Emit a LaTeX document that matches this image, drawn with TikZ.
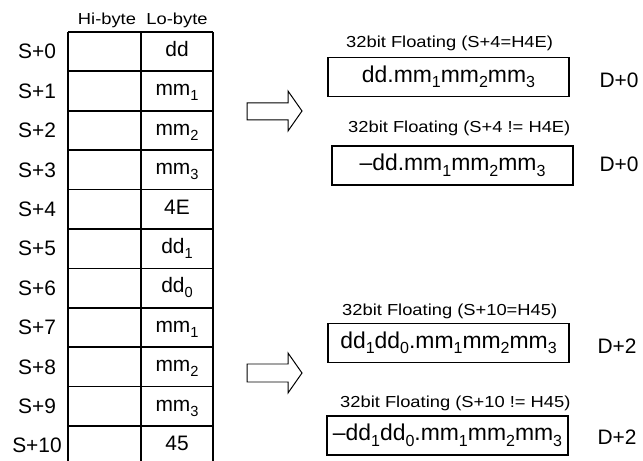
\documentclass[tikz,border=0pt]{standalone}
\usepackage{fontspec}
\usepackage{graphicx}
\setmainfont{Liberation Sans}
\newfontfamily\widefont[FakeStretch=1.15]{Liberation Sans}
\newcommand\lowsub[1]{\raisebox{-0.24em}{\scalebox{0.7}{#1}}}
\begin{document}
\begin{tikzpicture}[x=1bp,y=-1bp,
  rowlbl/.style={font=\fontsize{21}{24}\selectfont, inner sep=0pt},
  celltxt/.style={font=\fontsize{21}{24}\selectfont, inner sep=0pt},
  hdr/.style={font=\widefont\fontsize{16}{18}\selectfont, inner sep=0pt},
  captxt/.style={font=\widefont\fontsize{16}{18}\selectfont, inner sep=0pt, anchor=west},
  res/.style={draw, line width=1.3pt, minimum width=241bp, minimum height=39bp,
              font=\fontsize{23}{27}\selectfont, inner sep=0pt},
  dlbl/.style={font=\fontsize{21}{24}\selectfont, inner sep=0pt},
  gridline/.style={line width=1.8pt},
  blockarrow/.style={draw, line width=1pt, line join=miter}]
\useasboundingbox (0,0) rectangle (643,461);

% headers
\node[hdr] (hi) at (107,20) {Hi-byte};
\node[hdr] (lo) at (177,20) {Lo-byte};

% table grid
\draw[gridline] (68,32) -- (68,461);
\draw[gridline] (141,32) -- (141,461);
\draw[gridline] (213,32) -- (213,461);
\foreach \k in {0,...,10}{
  \draw[gridline] (68,{32+39.4*\k}) -- (213,{32+39.4*\k});
}

% row labels and cell contents
\foreach \k/\c in {0/dd, 1/mm\lowsub{1}, 2/mm\lowsub{2}, 3/mm\lowsub{3},
                   4/4E, 5/dd\lowsub{1}, 6/dd\lowsub{0}, 7/mm\lowsub{1},
                   8/mm\lowsub{2}, 9/mm\lowsub{3}, 10/45}{
  \node[rowlbl] (s\k) at (37,{51.7+39.4*\k}) {S+\k};
  \node[celltxt] (c\k) at (177,{51.7+39.4*\k}) {\strut\c};
}

% block arrows
\draw[blockarrow] (247,103) -- (288,103) -- (288,91) -- (302,111) -- (288,131)
  -- (288,120) -- (247,120) -- cycle;
\draw[blockarrow] (247,364) -- (288,364) -- (288,353) -- (302,373) -- (288,393)
  -- (288,382) -- (247,382) -- cycle;

% result boxes
\node[captxt] (cap1) at (346,43) {32bit Floating (S+4=H4E)};
\node[res] (r1) at (448.5,77) {dd.mm\lowsub{1}mm\lowsub{2}mm\lowsub{3}};
\node[dlbl] (d1) at (619,80) {D+0};

\node[captxt] (cap2) at (348,128) {32bit Floating (S+4 != H4E)};
\node[res] (r2) at (452.5,165.5) {--dd.mm\lowsub{1}mm\lowsub{2}mm\lowsub{3}};
\node[dlbl] (d2) at (619,164) {D+0};

\node[captxt] (cap3) at (342,311) {32bit Floating (S+10=H45)};
\node[res] (r3) at (448.5,343) {dd\lowsub{1}dd\lowsub{0}.mm\lowsub{1}mm\lowsub{2}mm\lowsub{3}};
\node[dlbl] (d3) at (617,346) {D+2};

\node[captxt] (cap4) at (340,403) {32bit Floating (S+10 != H45)};
\node[res] (r4) at (447.5,435.5) {--dd\lowsub{1}dd\lowsub{0}.mm\lowsub{1}mm\lowsub{2}mm\lowsub{3}};
\node[dlbl] (d4) at (617,437) {D+2};
\end{tikzpicture}
\end{document}
